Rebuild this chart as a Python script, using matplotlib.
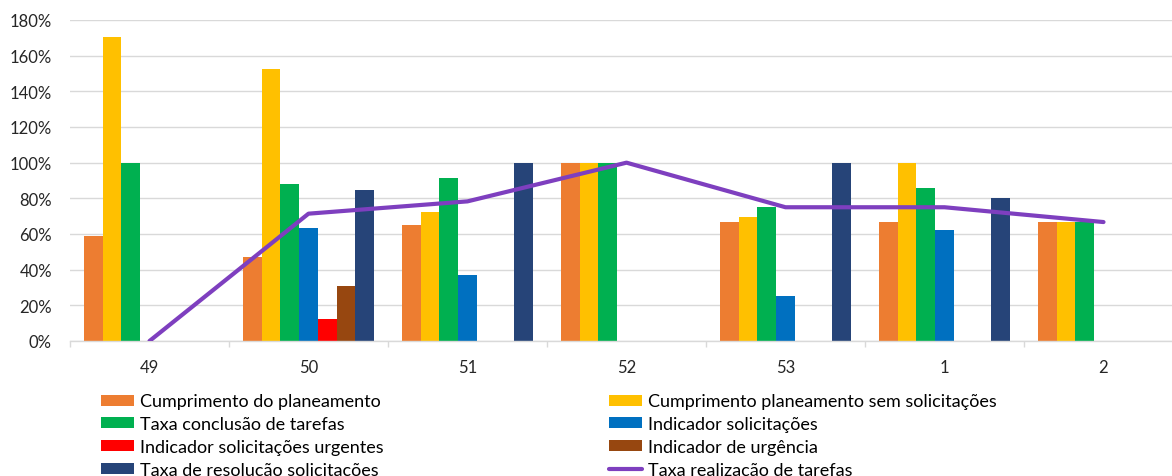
import matplotlib.pyplot as plt
import numpy as np

plt.rcParams["font.family"] = ["Lato", "DejaVu Sans"]

semanas = ["49", "50", "51", "52", "53", "1", "2"]

nan = np.nan
cumprimento = [58.8, 47.1, 65.3, 100, 66.7, 66.7, 66.7]
cumprimento_sem_solic = [170.6, 152.4, 72.2, 100, 69.4, 100, 66.7]
conclusao_tarefas = [100, 88.2, 91.3, 100, 75.0, 85.7, 66.7]
indicador_solic = [nan, 63.6, 36.8, nan, 25.0, 62.5, nan]
solic_urgentes = [nan, 12.5, nan, nan, nan, nan, nan]
indicador_urgencia = [nan, 30.6, nan, nan, nan, nan, nan]
resolucao_solic = [nan, 84.6, 100, nan, 100, 80.0, nan]
realizacao_tarefas = [0, 71.4, 78.3, 100, 75.0, 75.0, 66.7]

series = [
    ("Cumprimento do planeamento", cumprimento, "#ED7D31"),
    ("Cumprimento planeamento sem solicitações", cumprimento_sem_solic, "#FFC000"),
    ("Taxa conclusão de tarefas", conclusao_tarefas, "#00B050"),
    ("Indicador solicitações", indicador_solic, "#0070C0"),
    ("Indicador solicitações urgentes", solic_urgentes, "#FF0000"),
    ("Indicador de urgência", indicador_urgencia, "#974710"),
    ("Taxa de resolucão solicitacões", resolucao_solic, "#264478"),
]

fig = plt.figure(figsize=(11.72, 4.77), dpi=100)
ax = fig.add_axes([70 / 1172, (477 - 342) / 477, (1183 - 70) / 1172, (342 - 21) / 477])

x = np.arange(len(semanas))
width = 0.827 / len(series)
for j, (nome, valores, cor) in enumerate(series):
    ax.bar(x + (j - 3) * width, np.array(valores, dtype=float) / 100, width,
           color=cor, label=nome, zorder=2)

ax.plot(x, np.array(realizacao_tarefas) / 100, color="#7E3FBF", lw=3,
        solid_capstyle="round", label="Taxa realização de tarefas", zorder=3)

ax.set_xlim(-0.5, len(semanas) - 0.5)
ax.set_ylim(0, 1.8)
ax.set_yticks(np.arange(0, 1.81, 0.2))
ax.set_yticklabels([f"{int(round(v * 100))}%" for v in np.arange(0, 1.81, 0.2)])
ax.yaxis.grid(True, color="#D9D9D9", lw=1, zorder=0)
ax.set_axisbelow(True)

ax.set_xticks(x)
ax.set_xticklabels(semanas)
ax.set_xticks(np.arange(-0.5, len(semanas)), minor=True)
ax.tick_params(axis="x", which="major", length=0, pad=13, labelsize=12, colors="#262626")
ax.tick_params(axis="x", which="minor", length=4, width=1, color="#D9D9D9")
ax.tick_params(axis="y", length=0, pad=13, labelsize=12, colors="#262626")

for lado in ["left", "right", "top"]:
    ax.spines[lado].set_visible(False)
ax.spines["bottom"].set_color("#D9D9D9")
ax.spines["bottom"].set_linewidth(1)

handles, labels = ax.get_legend_handles_labels()
# bar handles first, line last, laid out row by row in two columns
handles = handles[1:] + handles[:1]
labels = labels[1:] + labels[:1]
ordem = [0, 2, 4, 6, 1, 3, 5, 7]
leg = fig.legend([handles[i] for i in ordem], [labels[i] for i in ordem],
                 ncol=2, loc="upper left", bbox_to_anchor=(101 / 1172, 1 - 394.5 / 477),
                 frameon=False, fontsize=13, handlelength=1.83, handleheight=0.55,
                 handletextpad=0.33, columnspacing=12.5, labelspacing=0.37,
                 borderaxespad=0, borderpad=0)
for t in leg.get_texts():
    t.set_color("#000000")

fig.savefig("out.png", dpi=100)
